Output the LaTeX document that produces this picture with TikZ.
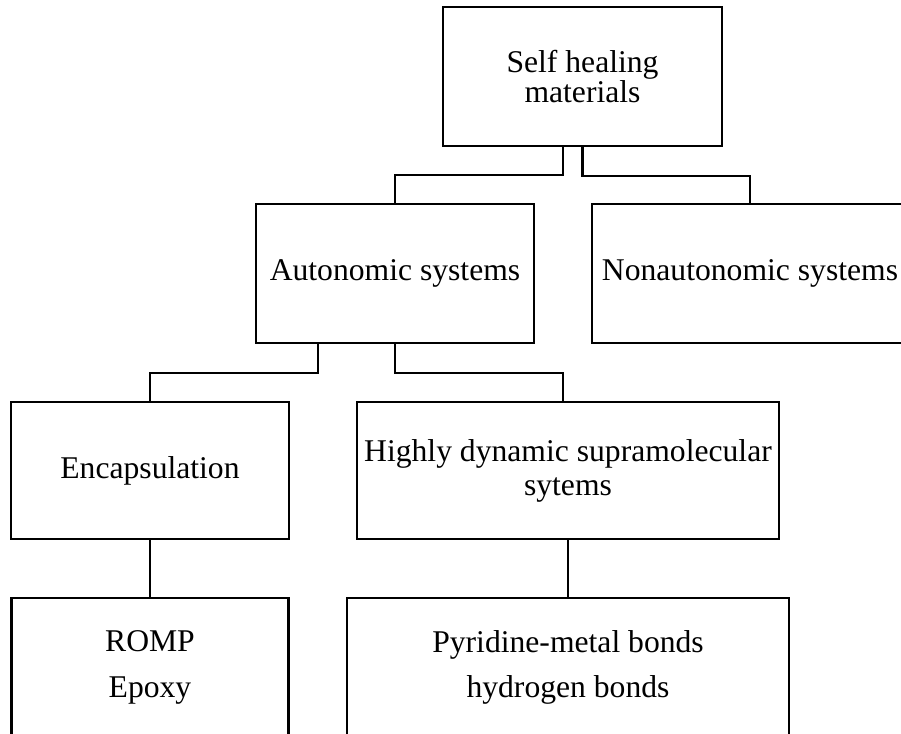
\documentclass[tikz,border=0pt]{standalone}
\usepackage{fontspec}
\setmainfont{Liberation Serif}
\usepackage{tikz}
\usetikzlibrary{positioning}
\tikzstyle{every picture}+=[font=\fontsize{18}{22}\selectfont]

\begin{document}
\begin{tikzpicture}
		[scale=1, inner sep=0pt, line width=1.4pt,
		box/.style={draw, align=center, minimum height=2.78cm}]
		
		\useasboundingbox (0, 0) rectangle (18.02, 14.66);
		
		% materials ----------------------------------------------
		\node[box, minimum width=5.58cm, font=\fontsize{18}{14.6}\selectfont]
		(shm) at (11.65, 13.13) {Self healing\\materials};
		
		% systems ------------------------------------------------
		\node[box, minimum width=5.56cm] (auto) at (7.90, 9.19) {Autonomic systems};
		\node[box, minimum width=6.32cm] (nonauto) at (15.00, 9.19) {Nonautonomic systems};
		
		% mechanisms ---------------------------------------------
		\node[box, minimum width=5.56cm, minimum height=2.74cm] (encap) at (3.00, 5.25) {Encapsulation};
		\node[box, minimum width=8.44cm, minimum height=2.74cm, font=\fontsize{18}{19.3}\selectfont]
		(hds) at (11.36, 5.25) {Highly dynamic supramolecular\\sytems};
		
		% examples -----------------------------------------------
		\node[box, minimum width=5.54cm, font=\fontsize{18}{26.4}\selectfont]
		(romp) at (3.00, 1.31) {ROMP\\Epoxy};
		\node[box, minimum width=8.84cm, font=\fontsize{18}{25.6}\selectfont]
		(pyr) at (11.36, 1.31) {Pyridine-metal bonds\\hydrogen bonds};
		
		% connectors ---------------------------------------------
		\draw ([xshift=-0.39cm]shm.south) -- ++(0, -0.56) -| (auto.north);
		\draw (shm.south) -- ++(0, -0.58) -| (nonauto.north);
		
		\draw ([xshift=-1.54cm]auto.south) -- ++(0, -0.58) -| (encap.north);
		\draw (auto.south) -- ++(0, -0.58) -| ([xshift=-0.1cm]hds.north);
		
		\draw (encap.south) -- (encap.south |- romp.north);
		\draw (hds.south) -- (hds.south |- pyr.north);
		\end{tikzpicture}
\end{document}
